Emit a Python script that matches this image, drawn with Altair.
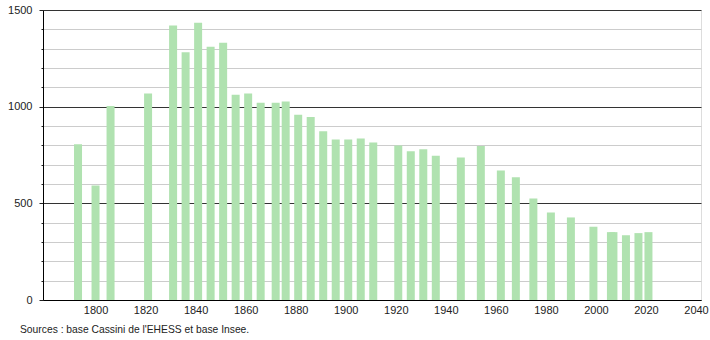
import altair as alt
import pandas as pd

years = [1793, 1800, 1806, 1821, 1831, 1836, 1841, 1846, 1851, 1856, 1861, 1866,
         1872, 1876, 1881, 1886, 1891, 1896, 1901, 1906, 1911, 1921, 1926, 1931,
         1936, 1946, 1954, 1962, 1968, 1975, 1982, 1990, 1999, 2006, 2007, 2012,
         2017, 2021]
population = [805, 592, 1003, 1068, 1420, 1282, 1434, 1310, 1330, 1061, 1068, 1020,
              1020, 1027, 958, 946, 873, 830, 830, 835, 815, 799, 770, 780,
              746, 737, 797, 670, 635, 525, 453, 427, 379, 351, 351, 335,
              346, 351]

x_ticks = [1800, 1820, 1840, 1860, 1880, 1900, 1920, 1940, 1960, 1980, 2000, 2020, 2040]
y_ticks = [0, 100, 200, 300, 400, 500, 600, 700, 800, 900, 1000, 1100, 1200, 1300, 1400, 1500]
source_text = ["Sources : base Cassini de l'EHESS et base Insee."]

df = pd.DataFrame({"year": years, "population": population})
src = pd.DataFrame({"t": source_text})

FONT = "Liberation Sans"

bars = alt.Chart(df).mark_bar(size=8, color="#b0e2b0").encode(
    x=alt.X("year:Q",
            scale=alt.Scale(domain=[1779, 2042], nice=False, zero=False, padding=0),
            axis=alt.Axis(values=x_ticks, title=None, grid=False, ticks=False,
                          format="d", labelPadding=4, labelFontSize=11,
                          labelFont=FONT, labelColor="#222",
                          domainColor="#000", domainWidth=1)),
    y=alt.Y("population:Q",
            scale=alt.Scale(domain=[0, 1500], nice=False, padding=0),
            axis=alt.Axis(values=y_ticks, title=None, format="d",
                          labelExpr="datum.value % 500 === 0 ? datum.label : ''",
                          labelFontSize=11, labelFont=FONT, labelColor="#222",
                          labelPadding=7,
                          tickSize={"condition": {"test": "datum.value % 500 === 0", "value": 4},
                                    "value": 2},
                          tickColor="#222",
                          grid=True,
                          gridColor={"condition": {"test": "datum.value % 500 === 0", "value": "#333"},
                                     "value": "#cccccc"},
                          gridWidth=1,
                          domainColor="#000", domainWidth=1)),
)

note = alt.Chart(src).mark_text(align="left", baseline="middle", fontSize=10.3,
                                font=FONT, color="#222").encode(
    text="t:N", x=alt.value(-23), y=alt.value(320))

chart = alt.layer(bars, note).properties(
    width=658, height=290,
    autosize=alt.AutoSizeParams(type="none"),
    padding={"left": 43, "top": 10, "right": 9, "bottom": 40},
).configure_view(stroke=None).configure(background="white")

chart.save("out.html", embed_options={"renderer": "svg", "actions": False})
